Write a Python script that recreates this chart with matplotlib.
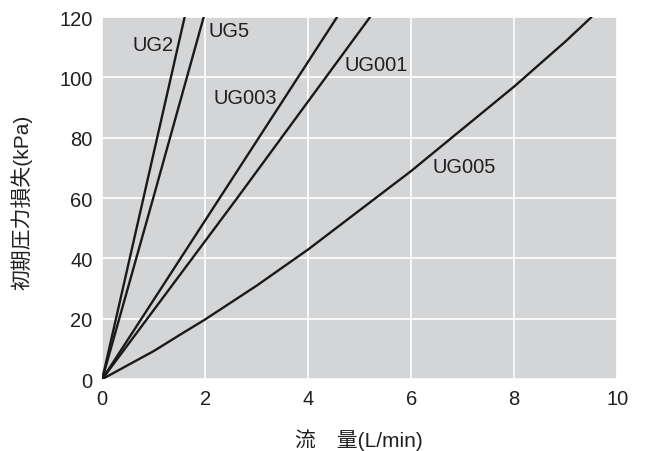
import matplotlib.pyplot as plt

plt.rcParams['font.family'] = ['Liberation Sans', 'Noto Sans CJK JP', 'DejaVu Sans']

# flow (L/min) vs initial pressure loss (kPa)
ug2_x = [0, 0.80, 1.60]
ug2_y = [0, 60, 120]
ug5_x = [0, 0.99, 1.97]
ug5_y = [0, 60, 120]
ug003_x = [0, 2.28, 4.56]
ug003_y = [0, 60, 120]
ug001_x = [0, 2.62, 5.20]
ug001_y = [0, 60, 120]
ug005_x = [0, 1, 1.5, 2, 3, 4, 5, 6, 7, 8, 9, 9.5]
ug005_y = [0, 9.3, 14.6, 19.8, 31, 43, 56, 69, 83, 97, 112, 120]

series = [
    ('UG2', ug2_x, ug2_y, (0.58, 111)),
    ('UG5', ug5_x, ug5_y, (2.06, 115.6)),
    ('UG003', ug003_x, ug003_y, (2.17, 93.4)),
    ('UG001', ug001_x, ug001_y, (4.70, 104.3)),
    ('UG005', ug005_x, ug005_y, (6.41, 70.4)),
]

txt = '#231f20'

fig = plt.figure(figsize=(6.47, 4.52), dpi=100)
ax = fig.add_axes([0.158, 0.159, 0.796, 0.801])
ax.set_facecolor('#d4d5d7')

for name, xs, ys, (lx, ly) in series:
    ax.plot(xs, ys, color='#1a1a1a', lw=1.7, solid_capstyle='round')
    ax.text(lx, ly, name, fontsize=14.5, va='center', ha='left', color=txt)

ax.set_xlim(0, 10)
ax.set_ylim(0, 120)
ax.set_xticks(range(0, 11, 2))
ax.set_yticks(range(0, 121, 20))
ax.grid(True, color='white', lw=1.2)
ax.set_axisbelow(True)
for s in ax.spines.values():
    s.set_visible(False)
ax.tick_params(length=0, labelsize=14.5, pad=7, colors=txt)

ax.set_xlabel('流\u3000量(L/min)', fontsize=15, color=txt)
ax.set_ylabel('初期圧力損失(kPa)', fontsize=15, color=txt)
ax.xaxis.set_label_coords(0.499, -0.135)
ax.yaxis.set_label_coords(-0.135, 0.49)

fig.savefig('out.png', dpi=100)
